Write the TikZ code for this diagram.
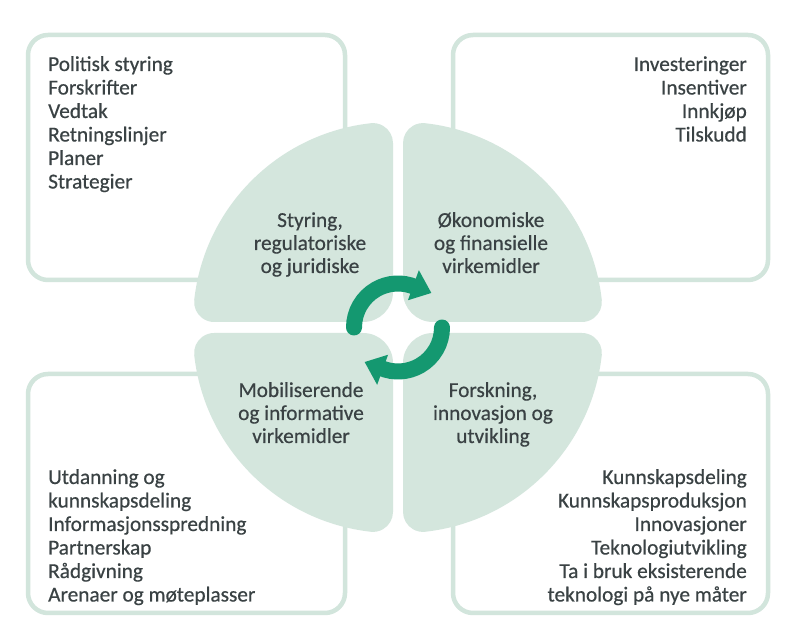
\documentclass[tikz,border=0pt]{standalone}
\usepackage{fontspec}
\setmainfont{Carlito}
\newfontfamily\itemfont{Carlito}[FakeBold=0.5]
\definecolor{qfill}{RGB}{212,230,221}
\definecolor{bline}{RGB}{210,229,220}
\definecolor{arrowc}{RGB}{20,152,112}
\definecolor{txt}{RGB}{58,66,68}
\newcommand\quadshape[1]{%
  \fill[qfill,#1] (0,30) -- (0,178.885)
    arc[start angle=0,end angle=96.379,radius=20]
    arc[start angle=96.379,end angle=173.621,radius=200]
    arc[start angle=173.621,end angle=270,radius=20]
    -- (-30,0) arc[start angle=270,end angle=360,radius=30] -- cycle;}
\newcommand\cyclearrow[1]{%
  \begin{scope}[#1]
    \draw[arrowc,line width=16pt,line cap=round] (180:44) arc[start angle=180,end angle=67,radius=44];
    \fill[arrowc] (70:29) -- (70:61) -- (46:48) -- cycle;
  \end{scope}}
\begin{document}
\begin{tikzpicture}[x=1pt,y=1pt,
  boxframe/.style={draw=bline,line width=4.5pt,rounded corners=20pt},
  itemtxt/.style={font=\itemfont\fontsize{21.3}{23.5}\selectfont,text=txt,inner sep=0pt}]
\useasboundingbox (0,0) rectangle (786,617);
\fill[white] (0,0) rectangle (786,617);
% frames
\draw[boxframe] (28,582) rectangle (345,337);
\draw[boxframe] (453,582) rectangle (768,337);
\draw[boxframe] (28,243) rectangle (345,4);
\draw[boxframe] (453,243) rectangle (768,4);
% quadrants
\quadshape{shift={(393,295)}}
\quadshape{shift={(403,295)},xscale=-1}
\quadshape{shift={(393,284)},yscale=-1}
\quadshape{shift={(403,284)},xscale=-1,yscale=-1}
% cycle arrows
\coordinate (cyc) at (398,289.5);
\cyclearrow{shift={(cyc)}}
\cyclearrow{shift={(cyc)},rotate=180}
% lists
\foreach \t [count=\i] in {Politisk styring,Forskrifter,Vedtak,Retningslinjer,Planer,Strategier}
  \node[itemtxt,anchor=base west] (tl\i) at (48,{546-23.5*(\i-1)}) {\t};
\foreach \t [count=\i] in {Investeringer,Insentiver,Innkjøp,Tilskudd}
  \node[itemtxt,anchor=base east] (tr\i) at (747,{546-23.5*(\i-1)}) {\t};
\foreach \t [count=\i] in {Utdanning og,kunnskapsdeling,Informasjonsspredning,Partnerskap,Rådgivning,Arenaer og møteplasser}
  \node[itemtxt,anchor=base west] (bl\i) at (48,{133-23.5*(\i-1)}) {\t};
\foreach \t [count=\i] in {Kunnskapsdeling,Kunnskapsproduksjon,Innovasjoner,Teknologiutvikling,Ta i bruk eksisterende,teknologi på nye måter}
  \node[itemtxt,anchor=base east] (br\i) at (747,{133-23.5*(\i-1)}) {\t};
% quadrant labels
\foreach \t [count=\i] in {{Styring,},regulatoriske,og juridiske}
  \node[itemtxt,anchor=base] (ql\i) at (310,{390-23*(\i-1)}) {\t};
\foreach \t [count=\i] in {Økonomiske,og finansielle,virkemidler}
  \node[itemtxt,anchor=base] (qr\i) at (491,{390-23*(\i-1)}) {\t};
\foreach \t [count=\i] in {Mobiliserende,og informative,virkemidler}
  \node[itemtxt,anchor=base] (qbl\i) at (301,{220-23*(\i-1)}) {\t};
\foreach \t [count=\i] in {{Forskning,},innovasjon og,utvikling}
  \node[itemtxt,anchor=base] (qbr\i) at (493,{220-23*(\i-1)}) {\t};
\end{tikzpicture}
\end{document}
